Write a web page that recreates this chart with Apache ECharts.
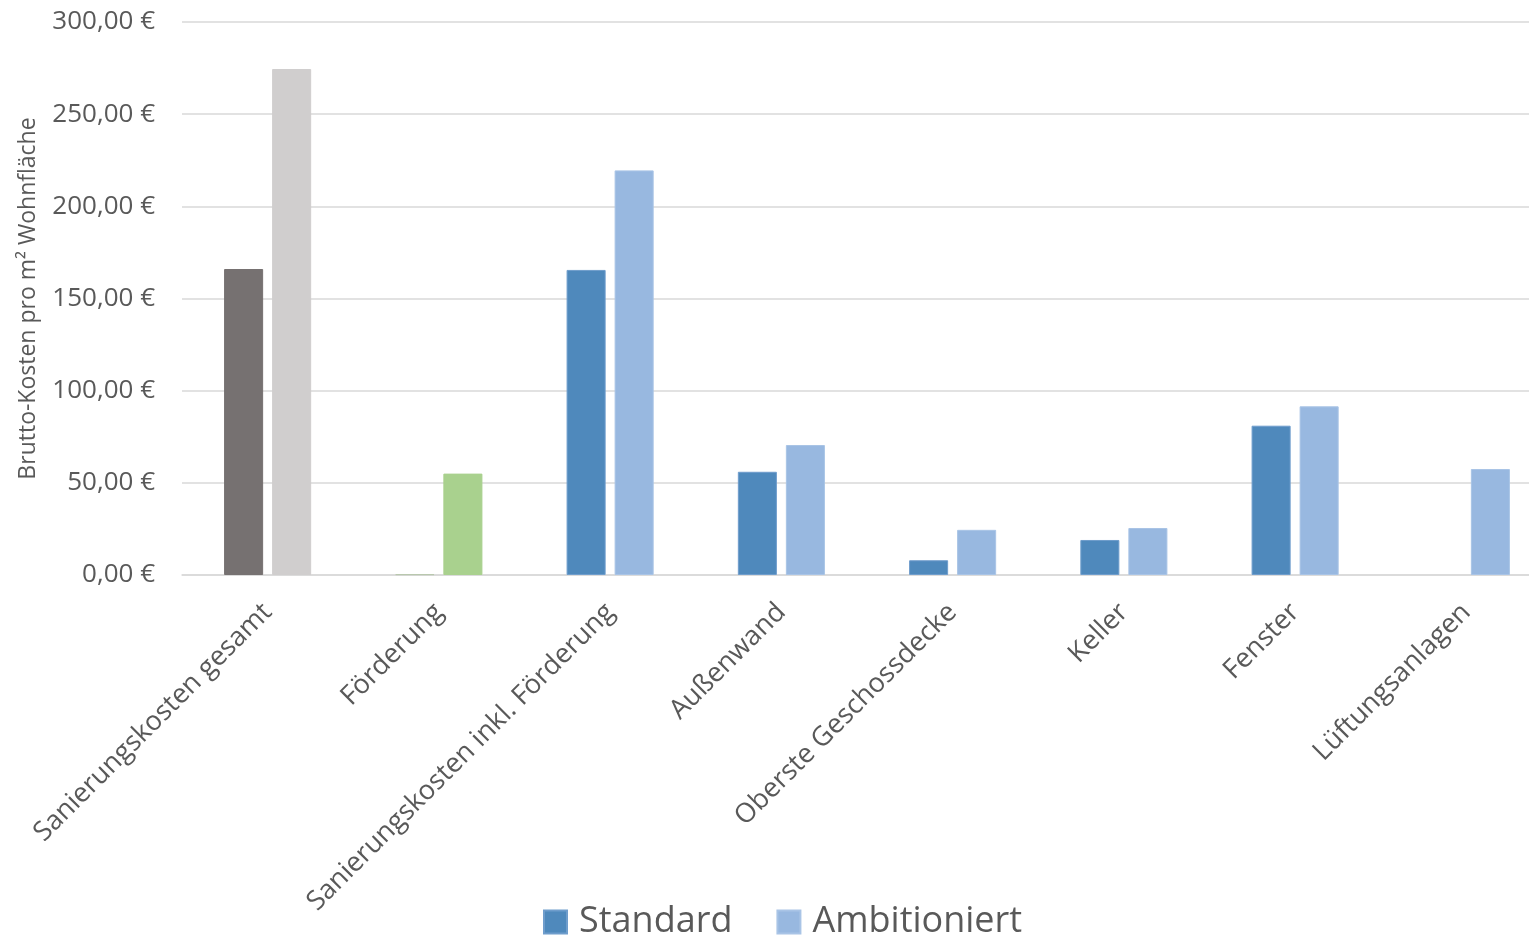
<!DOCTYPE html>
<html>
<head>
<meta charset="utf-8">
<script src="https://cdn.jsdelivr.net/npm/echarts@6/dist/echarts.min.js"></script>
<style>
  html, body { margin: 0; padding: 0; background: #fff; }
  #chart { width: 1529px; height: 937px; }
</style>
</head>
<body>
<div id="chart"></div>
<script>
  // Kategorien und Werte (Brutto-Kosten pro m² Wohnfläche)
  var categories = ['Sanierungskosten gesamt', 'Förderung', 'Sanierungskosten inkl. Förderung',
    'Außenwand', 'Oberste Geschossdecke', 'Keller', 'Fenster', 'Lüftungsanlagen']
  var standardValues = [166, 0.4, 165.5, 56, 8, 19, 81, 0]
  var ambitioniertValues = [274.5, 55, 219.5, 70.5, 24.5, 25.5, 91.5, 57.5]
  var yTicks = [0, 50, 100, 150, 200, 250, 300]

  // Farben fuer einzelne Balken, die von der Serienfarbe abweichen
  var standardOverride = { 0: '#767171', 1: '#b9c9ae' }
  var ambitioniertOverride = { 0: '#d0cece', 1: '#a9d18e' }

  var fontFamily = '"Open Sans", "Noto Sans", sans-serif'
  var textColor = '#595959'

  function buildData(values, override) {
    return values.map(function (v, i) {
      if (override[i]) {
        return { value: v, itemStyle: { color: override[i], borderColor: override[i] } }
      }
      if (v === 0) {
        return { value: v, itemStyle: { borderWidth: 0 } }
      }
      return v
    })
  }

  var myChart = echarts.init(document.getElementById('chart'))
  myChart.setOption({
    animation: false,
    color: ['#4f89bc', '#98b8e0'],
    textStyle: { fontFamily: fontFamily },
    // die Zeichenflaeche reicht rechts etwas ueber den Bildrand hinaus
    grid: { left: 182, width: 1370, top: 22, bottom: 362, containLabel: false, outerBoundsMode: 'none' },
    legend: {
      top: 904,
      left: 543,
      padding: 0,
      itemWidth: 23,
      itemHeight: 23,
      itemGap: 44,
      icon: 'rect',
      textStyle: { fontSize: 36, color: textColor, fontFamily: fontFamily, padding: [0, 0, 0, 7] },
      data: ['Standard', 'Ambitioniert']
    },
    xAxis: {
      type: 'category',
      data: categories,
      axisTick: { show: false },
      axisLine: { lineStyle: { color: '#d9d9d9', width: 1.5 } },
      axisLabel: {
        rotate: 45,
        interval: 0,
        margin: 33,
        fontSize: 27,
        color: textColor,
        fontFamily: fontFamily
      }
    },
    yAxis: {
      type: 'value',
      min: yTicks[0],
      max: yTicks[yTicks.length - 1],
      interval: 50,
      name: 'Brutto-Kosten pro m² Wohnfläche',
      nameLocation: 'middle',
      nameGap: 142,
      nameTextStyle: { fontSize: 23, color: textColor, fontFamily: fontFamily },
      axisLine: { show: false },
      axisTick: { show: false },
      splitLine: { lineStyle: { color: '#d9d9d9', width: 1.5 } },
      axisLabel: {
        margin: 27,
        fontSize: 26,
        color: textColor,
        fontFamily: fontFamily,
        formatter: function (v) { return v.toFixed(2).replace('.', ',') + ' €' }
      }
    },
    series: [
      {
        name: 'Standard',
        type: 'bar',
        barWidth: '22.8%',
        barGap: '23%',
        itemStyle: { borderColor: '#6f9dcc', borderWidth: 1 },
        data: buildData(standardValues, standardOverride)
      },
      {
        name: 'Ambitioniert',
        type: 'bar',
        barWidth: '22.8%',
        itemStyle: { borderColor: '#a9c4e6', borderWidth: 1 },
        data: buildData(ambitioniertValues, ambitioniertOverride)
      }
    ]
  })
</script>
</body>
</html>
